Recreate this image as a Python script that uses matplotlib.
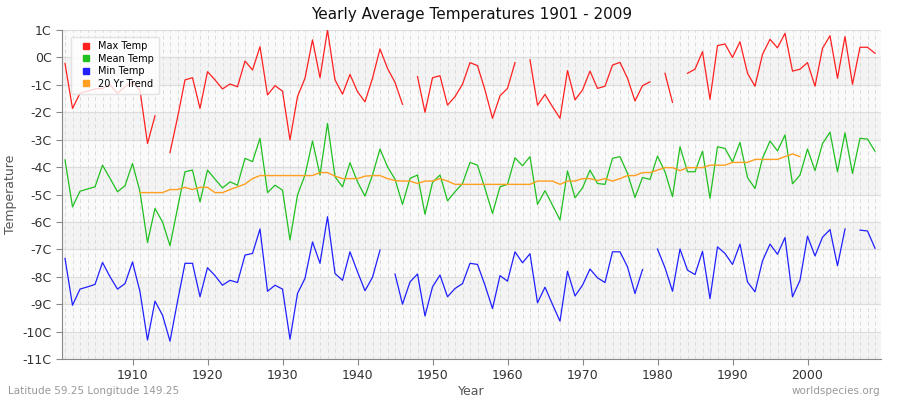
import numpy as np
import matplotlib
matplotlib.use("Agg")
import matplotlib.pyplot as plt

years = list(range(1901, 2010))
nan = np.nan
max_temp = [-0.22,-1.86,-1.31,-1.23,-1.15,-1.13,-1.0,-1.31,-1.07,-0.9,-1.2,-3.14,-2.13,nan,-3.47,-2.2,-0.82,-0.74,-1.86,-0.52,
            -0.82,-1.15,-0.97,-1.07,-0.13,-0.46,0.39,-1.37,-1.03,-1.23,-3.01,-1.43,-0.76,0.64,-0.74,1.0,-0.82,-1.34,-0.62,-1.25,
            -1.62,-0.76,0.31,-0.40,-0.91,-1.71,nan,-0.70,-2.0,-0.74,-0.67,-1.74,-1.43,-0.98,-0.19,-0.3,-1.19,-2.22,-1.40,-1.13,
            -0.19,nan,-0.09,-1.74,-1.35,-1.80,-2.22,-0.48,-1.55,-1.19,-0.50,-1.13,-1.05,-0.28,-0.18,-0.76,-1.59,-1.03,-0.89,nan,
            -0.58,-1.64,nan,-0.58,-0.43,0.21,-1.53,0.43,0.49,0.0,0.57,-0.58,-1.05,0.11,0.66,0.35,0.88,-0.50,-0.43,-0.19,
            -1.05,0.33,0.79,-0.76,0.76,-0.98,0.37,0.37,0.15]
mean_temp = [-3.74,-5.45,-4.88,-4.8,-4.72,-3.93,-4.41,-4.9,-4.68,-3.87,-4.9,-6.75,-5.51,-6.0,-6.87,-5.5,-4.17,-4.11,-5.27,-4.11,
             -4.44,-4.76,-4.54,-4.66,-3.68,-3.8,-2.95,-4.93,-4.66,-4.84,-6.66,-5.02,-4.29,-3.05,-4.29,-2.41,-4.35,-4.72,-3.84,-4.54,
             -5.06,-4.29,-3.34,-3.99,-4.44,-5.36,-4.41,-4.29,-5.72,-4.56,-4.29,-5.23,-4.9,-4.6,-3.83,-3.93,-4.78,-5.69,-4.72,-4.63,
             -3.66,-3.95,-3.62,-5.36,-4.86,-5.39,-5.93,-4.14,-5.12,-4.76,-4.11,-4.6,-4.63,-3.68,-3.62,-4.23,-5.11,-4.38,-4.45,-3.6,
             -4.17,-5.08,-3.26,-4.17,-4.17,-3.42,-5.14,-3.26,-3.32,-3.81,-3.1,-4.38,-4.78,-3.68,-3.05,-3.41,-2.83,-4.61,-4.29,-3.34,
             -4.13,-3.14,-2.73,-4.17,-2.75,-4.23,-2.95,-2.98,-3.42]
min_temp = [-7.33,-9.04,-8.45,-8.37,-8.28,-7.48,-8.0,-8.45,-8.25,-7.46,-8.55,-10.31,-8.89,-9.4,-10.35,-8.9,-7.51,-7.51,-8.73,-7.67,
            -7.96,-8.31,-8.13,-8.21,-7.21,-7.15,-6.26,-8.53,-8.31,-8.45,-10.28,-8.61,-8.06,-6.73,-7.51,-5.81,-7.88,-8.13,-7.09,-7.82,
            -8.51,-8.02,-7.03,nan,-7.9,-9.0,-8.19,-7.9,-9.43,-8.37,-7.94,-8.73,-8.43,-8.25,-7.51,-7.55,-8.31,-9.16,-7.96,-8.16,
            -7.09,-7.49,-7.16,-8.95,-8.38,-9.01,-9.62,-7.8,-8.7,-8.31,-7.72,-8.04,-8.21,-7.09,-7.09,-7.64,-8.61,-7.74,nan,-6.99,
            -7.67,-8.53,-6.99,-7.76,-7.92,-7.07,-8.8,-6.91,-7.15,-7.55,-6.81,-8.19,-8.55,-7.42,-6.81,-7.18,-6.57,-8.73,-8.13,-6.52,
            -7.24,-6.56,-6.28,-7.6,-6.26,nan,-6.3,-6.33,-6.96]
trend_years = list(range(1911, 2000))
trend = [-4.93,-4.93,-4.93,-4.93,-4.82,-4.82,-4.74,-4.82,-4.74,-4.74,-4.93,-4.93,-4.82,-4.72,-4.62,-4.42,-4.31,-4.31,-4.31,-4.31,
         -4.31,-4.31,-4.31,-4.31,-4.2,-4.2,-4.33,-4.42,-4.42,-4.42,-4.33,-4.31,-4.31,-4.42,-4.49,-4.51,-4.51,-4.6,-4.51,-4.51,
         -4.42,-4.51,-4.63,-4.63,-4.63,-4.63,-4.63,-4.63,-4.63,-4.63,-4.63,-4.63,-4.63,-4.51,-4.51,-4.51,-4.63,-4.51,-4.51,-4.42,
         -4.42,-4.49,-4.42,-4.51,-4.42,-4.31,-4.31,-4.2,-4.2,-4.11,-4.02,-4.02,-4.13,-4.02,-4.02,-4.02,-3.93,-3.93,-3.93,-3.83,
         -3.83,-3.83,-3.72,-3.72,-3.72,-3.72,-3.62,-3.52,-3.62]
yticks = [1, 0, -1, -2, -3, -4, -5, -6, -7, -8, -9, -10, -11]
ytick_labels = ["1C", "0C", "-1C", "-2C", "-3C", "-4C", "-5C", "-6C", "-7C", "-8C", "-9C", "-10C", "-11C"]
xticks = [1910, 1920, 1930, 1940, 1950, 1960, 1970, 1980, 1990, 2000]

fig = plt.figure(figsize=(9, 4), dpi=100)
ax = fig.add_axes([62/900, 41/400, 819/900, 329/400])
ax.set_xlim(1900.6, 2009.8)
ax.set_ylim(-11, 1)
for i, lo in enumerate(range(-11, 1)):
    ax.axhspan(lo, lo + 1, color="#f3f3f3" if i % 2 == 0 else "#fafafa", zorder=0, lw=0)
for y in range(-11, 2):
    ax.axhline(y, color="#dddddd", lw=0.8, zorder=0.5)
for yr in years:
    ax.axvline(yr, color="#dcdcdc", lw=0.7, ls=(0, (4, 3)), zorder=0.5)

ax.plot(years, max_temp, color="#ff2020", lw=0.9, label="Max Temp", zorder=3)
ax.plot(years, mean_temp, color="#20c020", lw=0.9, label="Mean Temp", zorder=3)
ax.plot(years, min_temp, color="#2020ff", lw=0.9, label="Min Temp", zorder=3)
ax.plot(trend_years, trend, color="#ffa020", lw=1.0, label="20 Yr Trend", zorder=4)

ax.set_yticks(yticks)
ax.set_yticklabels(ytick_labels, fontsize=9, color="#333333")
ax.set_xticks(xticks)
ax.set_xticklabels([str(x) for x in xticks], fontsize=9, color="#333333")
ax.tick_params(length=4, color="#888888")
for s in ["top", "right"]:
    ax.spines[s].set_visible(False)
ax.spines["left"].set_color("#888888")
ax.spines["bottom"].set_color("#888888")
ax.set_xlabel("Year", fontsize=9, color="#555555", labelpad=2)
ax.set_ylabel("Temperature", fontsize=9, color="#555555")
ax.set_title("Yearly Average Temperatures 1901 - 2009", fontsize=11, color="#111111", pad=8)

from matplotlib.lines import Line2D
handles = [Line2D([], [], marker="s", ls="", color=c, markersize=4) for c in ["#ff2020", "#20c020", "#2020ff", "#ffa020"]]
leg = ax.legend(handles, ["Max Temp", "Mean Temp", "Min Temp", "20 Yr Trend"], loc="upper left",
                fontsize=7, frameon=True, handletextpad=0.3, borderpad=0.5, labelspacing=0.25,
                bbox_to_anchor=(0.005, 0.995))
leg.get_frame().set_edgecolor("#dddddd")
leg.get_frame().set_facecolor("white")

fig.text(8/900, 1 - 391/400, "Latitude 59.25 Longitude 149.25", fontsize=7.5, color="#999999", va="center")
fig.text(880/900, 1 - 391/400, "worldspecies.org", fontsize=7.5, color="#999999", va="center", ha="right")
fig.savefig("out.png", dpi=100)
